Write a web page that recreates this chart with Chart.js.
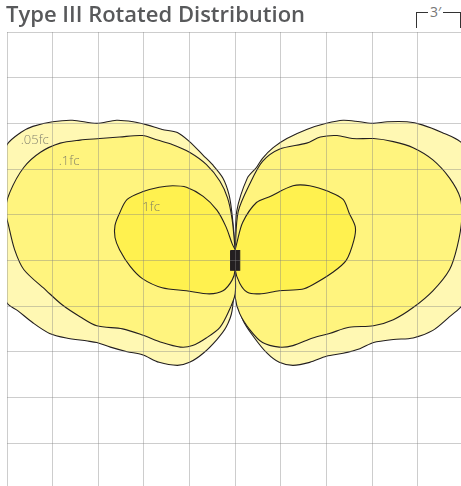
<!DOCTYPE html>
<html>
<head>
<meta charset="utf-8">
<script src="https://cdn.jsdelivr.net/npm/chart.js@4.4.0/dist/chart.umd.min.js"></script>
<style>
  html, body { margin: 0; padding: 0; background: #fff; overflow: hidden; }
  #wrap { position: relative; width: 461px; height: 486px; overflow: hidden; }
  #chart { position: absolute; left: 0; top: 0; }
  #title { position: absolute; left: 6px; top: -2px; font-family: 'Open Sans', sans-serif; font-weight: 600; font-size: 22px; color: #58595b; white-space: nowrap; }
  #scale { position: absolute; left: 416px; top: 12px; width: 43px; height: 15px; border: 1.3px solid #333; border-bottom: none; }
  #scale span { position: absolute; left: 11px; top: -11px; background: #fff; padding: 0 2px; font: 400 14px 'Open Sans', sans-serif; color: #777; }
</style>
</head>
<body>
<div id="wrap">
  <canvas id="chart" width="470" height="495"></canvas>
  <div id="title">Type III Rotated Distribution</div>
  <div id="scale"><span>3′</span></div>
</div>
<script>
// Isofootcandle contours, in feet from the fixture (one grid square = 3 ft)
const lux005Left = [[0.0,0.7],[-0.2,3.0],[-0.4,4.3],[-0.8,5.4],[-1.5,6.3],[-2.1,6.9],[-3.0,7.8],[-3.8,8.4],[-4.8,8.6],[-5.8,8.9],[-6.7,9.1],[-7.8,9.2],[-9.1,9.0],[-10.7,9.2],[-12.0,9.1],[-13.3,8.8],[-14.1,8.4],[-15.0,7.6],[-15.8,5.3],[-16.0,2.3],[-15.8,-0.6],[-15.0,-2.8],[-14.3,-3.3],[-13.3,-4.1],[-12.2,-4.8],[-11.1,-5.1],[-9.7,-5.3],[-9.1,-5.4],[-8.2,-5.7],[-7.1,-6.0],[-6.1,-6.2],[-5.0,-6.7],[-3.8,-6.9],[-3.0,-6.7],[-2.1,-6.1],[-1.2,-5.2],[-0.6,-4.4],[-0.2,-3.3],[0.0,-0.6]];
const lux005Right = [[0.0,0.7],[0.1,3.2],[0.8,5.4],[1.4,6.1],[1.8,6.7],[2.5,7.4],[3.4,8.0],[4.7,8.6],[6.0,9.0],[7.1,9.2],[8.2,9.1],[9.1,9.0],[10.0,9.1],[11.3,9.1],[12.3,8.9],[13.6,8.4],[14.8,7.8],[15.8,6.6],[16.2,4.0],[16.2,0.7],[15.8,-2.0],[14.8,-3.1],[14.1,-3.7],[13.0,-4.6],[11.7,-5.1],[10.4,-5.2],[9.1,-5.4],[8.2,-5.8],[7.1,-6.1],[6.0,-6.3],[4.9,-6.7],[3.8,-6.9],[2.9,-6.7],[2.1,-6.1],[1.2,-5.0],[0.5,-3.9],[0.1,-2.4],[0.0,-0.6]];
const lux01Left = [[0.0,0.7],[-0.2,2.7],[-0.5,4.1],[-1.0,5.2],[-1.9,6.3],[-3.0,7.1],[-4.1,7.6],[-5.1,7.9],[-6.1,8.2],[-7.6,8.1],[-8.9,8.0],[-10.2,7.9],[-11.5,7.7],[-12.8,7.1],[-13.9,6.1],[-14.8,4.5],[-15.1,3.3],[-14.9,2.3],[-14.5,0.7],[-13.9,-0.6],[-12.4,-2.0],[-11.4,-2.9],[-10.2,-3.7],[-9.1,-4.3],[-7.4,-4.5],[-6.1,-4.9],[-4.8,-5.4],[-3.6,-5.7],[-2.8,-5.6],[-1.9,-5.1],[-1.0,-4.4],[-0.4,-3.3],[0.0,-2.2],[0.0,-0.6]];
const lux01Right = [[0.0,0.7],[0.2,3.2],[1.0,5.1],[1.8,6.5],[2.9,7.3],[4.7,7.7],[5.6,8.1],[6.7,8.2],[7.7,8.0],[9.1,8.0],[10.4,7.8],[11.7,7.4],[13.0,6.6],[14.1,5.4],[14.8,4.1],[14.9,2.7],[14.6,0.9],[14.1,-0.6],[13.0,-2.0],[11.7,-3.1],[10.4,-3.9],[9.1,-4.3],[7.5,-4.4],[6.2,-4.8],[5.1,-5.1],[3.8,-5.6],[2.9,-5.7],[1.8,-5.4],[1.0,-4.6],[0.3,-3.5],[0.0,-2.4],[0.0,-0.6]];
const lux1Left = [[0.0,0.7],[-0.2,1.1],[-0.6,2.2],[-1.2,3.3],[-2.1,4.2],[-3.2,4.8],[-4.1,4.9],[-5.0,4.8],[-6.1,4.5],[-7.1,4.0],[-7.6,3.1],[-7.9,2.3],[-7.9,1.5],[-7.6,0.7],[-6.9,-0.4],[-6.1,-1.2],[-4.8,-1.8],[-3.2,-2.0],[-1.7,-2.2],[-0.8,-2.0],[-0.2,-1.3],[0.0,-0.6]];
const lux1Right = [[0.0,0.7],[0.1,1.1],[0.5,2.5],[1.4,3.8],[2.3,4.2],[3.8,4.9],[4.9,4.9],[6.2,4.5],[7.1,4.0],[7.5,3.1],[7.9,2.2],[7.8,1.3],[7.3,0.0],[6.4,-0.8],[5.1,-1.6],[4.4,-1.9],[2.9,-2.0],[1.6,-2.2],[0.8,-2.1],[0.3,-1.5],[0.0,-0.6]];
const fixture = [[-0.3,0.65],[0.3,0.65],[0.3,-0.65],[-0.3,-0.65]];

const gridTicks = [-15, -12, -9, -6, -3, 0, 3, 6, 9, 12, 15];
const labelNames = ['.05fc', '.1fc', '1fc'];
const labelX = [-14.1, -11.6, -6.1];
const labelY = [7.9, 6.5, 3.5];

function zone(points, color, order, tension) {
    const pts = points.map(p => ({ x: p[0], y: p[1] }));
    pts.push(pts[0]);
    return {
        data: pts,
        showLine: true,
        fill: 'shape',
        backgroundColor: color,
        borderColor: '#231f20',
        borderWidth: 1.1,
        pointRadius: 0,
        tension: tension,
        order: order
    };
}

const labelPlugin = {
    id: 'contourLabels',
    afterDraw(chart) {
        const ctx = chart.ctx;
        ctx.save();
        ctx.font = '300 13px "Open Sans", sans-serif';
        ctx.fillStyle = 'rgba(110,110,100,0.85)';
        ctx.textBaseline = 'middle';
        labelNames.forEach((name, i) => {
            ctx.fillText(name, chart.scales.x.getPixelForValue(labelX[i]), chart.scales.y.getPixelForValue(labelY[i]));
        });
        ctx.restore();
    }
};

const gridColor = 'rgba(130,130,130,0.4)';

new Chart(document.getElementById('chart'), {
    type: 'scatter',
    data: {
        datasets: [
            zone(fixture, '#231f20', 0, 0),
            zone(lux1Left, '#fff14f', 1, 0.3),
            zone(lux1Right, '#fff14f', 1, 0.3),
            zone(lux01Left, '#fff47e', 2, 0.3),
            zone(lux01Right, '#fff47e', 2, 0.3),
            zone(lux005Left, '#fff8b3', 3, 0.3),
            zone(lux005Right, '#fff8b3', 3, 0.3)
        ]
    },
    options: {
        responsive: false,
        animation: false,
        layout: { padding: { left: 7, top: 32, right: 6.7, bottom: 6.3 } },
        plugins: { legend: { display: false }, tooltip: { enabled: false } },
        scales: {
            x: {
                type: 'linear', min: -15, max: 15,
                ticks: { display: false },
                grid: { color: gridColor, drawTicks: false, z: 1, lineWidth: 1 },
                border: { display: false },
                afterBuildTicks: s => { s.ticks = gridTicks.map(v => ({ value: v })); },
                afterFit: s => { s.height = 0; }
            },
            y: {
                type: 'linear', min: -15, max: 15,
                ticks: { display: false },
                grid: { color: gridColor, drawTicks: false, z: 1, lineWidth: 1 },
                border: { display: false },
                afterBuildTicks: s => { s.ticks = gridTicks.map(v => ({ value: v })); },
                afterFit: s => { s.width = 0; }
            }
        }
    },
    plugins: [labelPlugin]
});
</script>
</body>
</html>
